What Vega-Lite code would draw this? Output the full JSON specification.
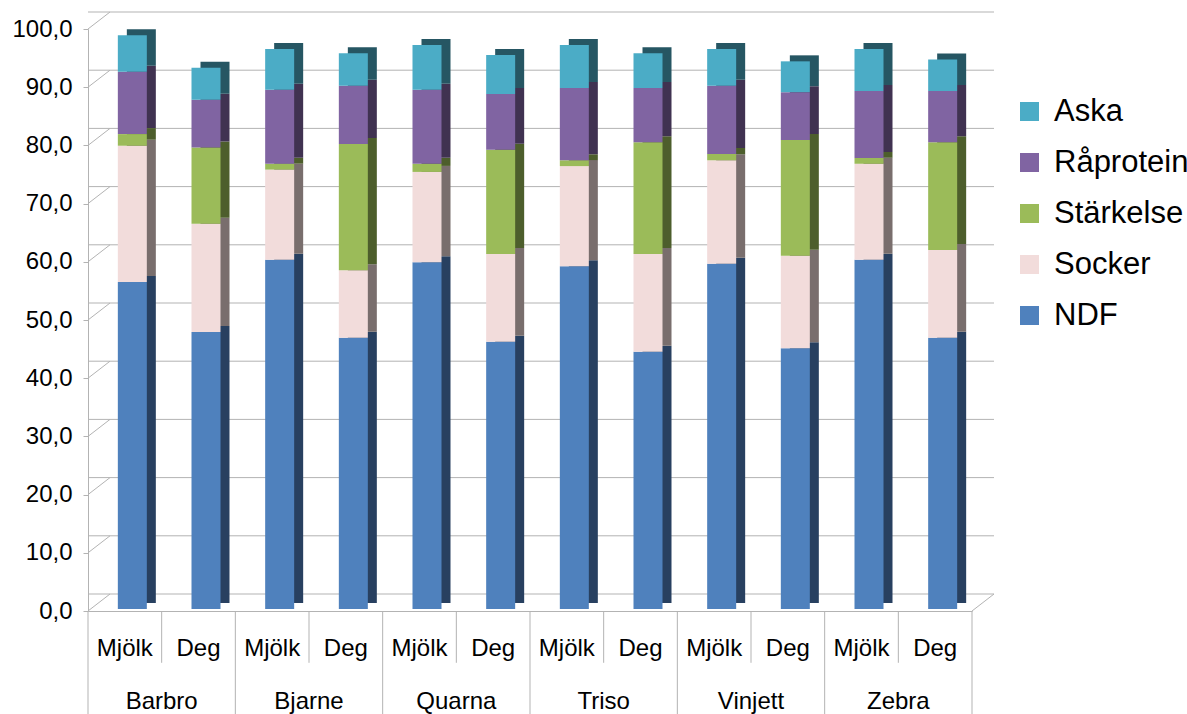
{
  "$schema": "https://vega.github.io/schema/vega-lite/v6.json",
  "width": 884,
  "height": 582,
  "autosize": {"type": "none"},
  "padding": {"left": 88, "top": 29, "right": 215, "bottom": 103},
  "background": "white",
  "config": {
    "font": "Liberation Sans",
    "view": {"stroke": null},
    "axisX": {
      "ticks": false,
      "tickSize": 0,
      "labelFontSize": 24,
      "labelColor": "#000000",
      "labelPadding": 37,
      "labelBaseline": "middle",
      "labelAngle": 0,
      "labelExpr": "split(datum.value, '|')[1]",
      "domainColor": "#b3b3b3",
      "grid": false
    },
    "axisY": {
      "grid": false,
      "tickCount": 10,
      "tickSize": 5,
      "tickColor": "#b3b3b3",
      "domainColor": "#b3b3b3",
      "labelFontSize": 24,
      "labelColor": "#000000",
      "labelPadding": 11,
      "labelExpr": "replace(format(datum.value, '.1f'), '.', ',')"
    }
  },
  "datasets": {
    "grid": [{"g": 0}, {"g": 10}, {"g": 20}, {"g": 30}, {"g": 40}, {"g": 50}, {"g": 60}, {"g": 70}, {"g": 80}, {"g": 90}, {"g": 100}],
    "main": [
      {"key": "Barbro|Mjölk", "group": "Barbro", "sub": "Mjölk", "NDF": 56.2, "Socker": 23.4, "Stärkelse": 2.0, "Råprotein": 10.7, "Aska": 6.3},
      {"key": "Barbro|Deg", "group": "Barbro", "sub": "Deg", "NDF": 47.6, "Socker": 18.6, "Stärkelse": 13.1, "Råprotein": 8.2, "Aska": 5.5},
      {"key": "Bjarne|Mjölk", "group": "Bjarne", "sub": "Mjölk", "NDF": 60.0, "Socker": 15.5, "Stärkelse": 1.0, "Råprotein": 12.7, "Aska": 7.0},
      {"key": "Bjarne|Deg", "group": "Bjarne", "sub": "Deg", "NDF": 46.6, "Socker": 11.6, "Stärkelse": 21.7, "Råprotein": 10.0, "Aska": 5.6},
      {"key": "Quarna|Mjölk", "group": "Quarna", "sub": "Mjölk", "NDF": 59.6, "Socker": 15.5, "Stärkelse": 1.4, "Råprotein": 12.7, "Aska": 7.7},
      {"key": "Quarna|Deg", "group": "Quarna", "sub": "Deg", "NDF": 45.9, "Socker": 15.1, "Stärkelse": 17.9, "Råprotein": 9.6, "Aska": 6.7},
      {"key": "Triso|Mjölk", "group": "Triso", "sub": "Mjölk", "NDF": 58.9, "Socker": 17.2, "Stärkelse": 1.0, "Råprotein": 12.4, "Aska": 7.4},
      {"key": "Triso|Deg", "group": "Triso", "sub": "Deg", "NDF": 44.2, "Socker": 16.8, "Stärkelse": 19.2, "Råprotein": 9.3, "Aska": 6.0},
      {"key": "Vinjett|Mjölk", "group": "Vinjett", "sub": "Mjölk", "NDF": 59.3, "Socker": 17.8, "Stärkelse": 1.1, "Råprotein": 11.7, "Aska": 6.3},
      {"key": "Vinjett|Deg", "group": "Vinjett", "sub": "Deg", "NDF": 44.8, "Socker": 15.9, "Stärkelse": 19.9, "Råprotein": 8.2, "Aska": 5.3},
      {"key": "Zebra|Mjölk", "group": "Zebra", "sub": "Mjölk", "NDF": 60.0, "Socker": 16.5, "Stärkelse": 1.0, "Råprotein": 11.5, "Aska": 7.2},
      {"key": "Zebra|Deg", "group": "Zebra", "sub": "Deg", "NDF": 46.6, "Socker": 15.1, "Stärkelse": 18.5, "Råprotein": 8.8, "Aska": 5.4}
    ]
  },
  "data": {"name": "main"},
  "layer": [
    {
      "data": {"name": "grid"},
      "mark": {"type": "rule", "color": "#b3b3b3", "strokeWidth": 1, "xOffset": 22, "x2Offset": 22, "yOffset": -17},
      "encoding": {
        "y": {"field": "g", "type": "quantitative", "title": null, "scale": {"domain": [0, 100], "nice": false}}
      }
    },
    {
      "data": {"name": "grid"},
      "mark": {"type": "rule", "color": "#b3b3b3", "strokeWidth": 1, "x2Offset": 22, "y2Offset": -17},
      "encoding": {
        "x": {"datum": "Barbro|Mjölk", "type": "nominal", "bandPosition": 0, "title": null},
        "x2": {"datum": "Barbro|Mjölk", "bandPosition": 0},
        "y": {"field": "g", "type": "quantitative", "title": null},
        "y2": {"field": "g"}
      }
    },
    {
      "transform": [{"filter": "datum.key == 'Zebra|Deg'"}],
      "mark": {"type": "rule", "color": "#b3b3b3", "strokeWidth": 1, "x2Offset": 22, "y2Offset": -17},
      "encoding": {
        "x": {"datum": "Zebra|Deg", "type": "nominal", "bandPosition": 1, "title": null},
        "x2": {"datum": "Zebra|Deg", "bandPosition": 1},
        "y": {"datum": 0, "type": "quantitative", "title": null},
        "y2": {"datum": 0}
      }
    },
    {
      "transform": [{"filter": "datum.sub == 'Deg'"}],
      "mark": {"type": "rule", "color": "#b3b3b3", "strokeWidth": 1},
      "encoding": {
        "x": {"field": "key", "type": "nominal", "bandPosition": 0, "title": null},
        "y": {"datum": 0, "type": "quantitative", "title": null},
        "y2": {"datum": -8.9}
      }
    },
    {
      "transform": [{"filter": "datum.sub == 'Mjölk'"}],
      "mark": {"type": "rule", "color": "#b3b3b3", "strokeWidth": 1},
      "encoding": {
        "x": {"field": "key", "type": "nominal", "bandPosition": 0, "title": null},
        "y": {"datum": 0, "type": "quantitative", "title": null},
        "y2": {"datum": -17.7}
      }
    },
    {
      "transform": [{"filter": "datum.key == 'Zebra|Deg'"}],
      "mark": {"type": "rule", "color": "#b3b3b3", "strokeWidth": 1},
      "encoding": {
        "x": {"field": "key", "type": "nominal", "bandPosition": 1, "title": null},
        "y": {"datum": 0, "type": "quantitative", "title": null},
        "y2": {"datum": -17.7}
      }
    },
    {
      "transform": [{"filter": "datum.sub == 'Mjölk'"}],
      "mark": {"type": "text", "fontSize": 24, "color": "#000000", "baseline": "middle", "align": "center", "dy": 2},
      "encoding": {
        "x": {"field": "key", "type": "nominal", "bandPosition": 1, "title": null},
        "y": {"datum": -15.3, "type": "quantitative", "title": null},
        "text": {"field": "group"}
      }
    },
    {
      "transform": [
        {"fold": ["NDF", "Socker", "Stärkelse", "Råprotein", "Aska"], "as": ["side", "sv"]},
        {"lookup": "side", "from": {"data": {"values": [{"side": "NDF", "sord": 1}, {"side": "Socker", "sord": 2}, {"side": "Stärkelse", "sord": 3}, {"side": "Råprotein", "sord": 4}, {"side": "Aska", "sord": 5}]}, "key": "side", "fields": ["sord"]}}
      ],
      "mark": {"type": "bar", "width": 29, "xOffset": 16.5, "yOffset": -8, "y2Offset": -8},
      "encoding": {
        "x": {"field": "key", "type": "nominal", "title": null},
        "y": {"field": "sv", "type": "quantitative", "stack": "zero", "title": null},
        "fill": {"field": "side", "type": "nominal", "legend": null, "scale": {"domain": ["NDF", "Socker", "Stärkelse", "Råprotein", "Aska"], "range": ["#284060", "#796e6d", "#4d5e2c", "#403251", "#265663"]}},
        "order": {"field": "sord", "type": "quantitative"}
      }
    },
    {
      "transform": [
        {"fold": ["NDF", "Socker", "Stärkelse", "Råprotein", "Aska"], "as": ["series", "v"]},
        {"lookup": "series", "from": {"data": {"values": [{"series": "NDF", "ord": 1}, {"series": "Socker", "ord": 2}, {"series": "Stärkelse", "ord": 3}, {"series": "Råprotein", "ord": 4}, {"series": "Aska", "ord": 5}]}, "key": "series", "fields": ["ord"]}}
      ],
      "mark": {"type": "bar", "width": 29, "xOffset": 7.5, "yOffset": -2, "y2Offset": -2},
      "encoding": {
        "x": {"field": "key", "type": "nominal", "title": null, "sort": null, "scale": {"type": "band", "paddingInner": 0, "paddingOuter": 0, "domain": ["Barbro|Mjölk", "Barbro|Deg", "Bjarne|Mjölk", "Bjarne|Deg", "Quarna|Mjölk", "Quarna|Deg", "Triso|Mjölk", "Triso|Deg", "Vinjett|Mjölk", "Vinjett|Deg", "Zebra|Mjölk", "Zebra|Deg"]}},
        "y": {"field": "v", "type": "quantitative", "stack": "zero", "title": null},
        "color": {
          "field": "series",
          "type": "nominal",
          "scale": {"domain": ["Aska", "Råprotein", "Stärkelse", "Socker", "NDF"], "range": ["#4bacc6", "#8064a2", "#9bbb59", "#f2dcdb", "#4f81bd"]},
          "legend": {
            "title": null,
            "orient": "none",
            "legendX": 926,
            "legendY": 67,
            "symbolType": "square",
            "symbolSize": 361,
            "symbolStrokeWidth": 0,
            "labelFontSize": 31,
            "labelColor": "#000000",
            "labelOffset": 9,
            "rowPadding": 19,
            "padding": 0
          }
        },
        "order": {"field": "ord", "type": "quantitative"}
      }
    }
  ]
}
